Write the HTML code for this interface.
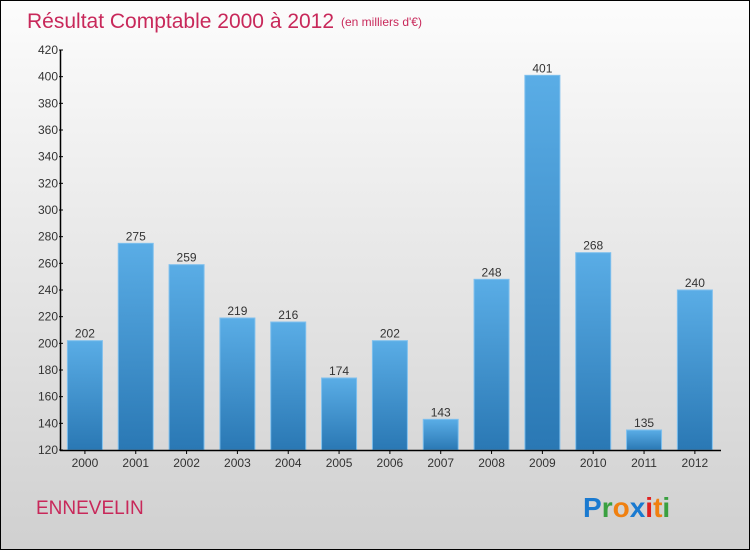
<!DOCTYPE html>
<html><head><meta charset="utf-8"><style>
body{margin:0}
#c{position:relative;width:748px;height:548px;border:1px solid #000;background:linear-gradient(#fcfcfc,#d0d0d0);font-family:"Liberation Sans",sans-serif;overflow:hidden}
</style></head><body>
<div id="c">
<svg width="748" height="548" xmlns="http://www.w3.org/2000/svg">
<defs><linearGradient id="g" x1="0" y1="0" x2="0" y2="1"><stop offset="0" stop-color="#5aade6"/><stop offset="1" stop-color="#2a78b4"/></linearGradient></defs>
<text x="26" y="27" font-size="21" fill="#c8285a">Résultat Comptable 2000 à 2012</text>
<text x="340" y="25" font-size="12" fill="#c8285a">(en milliers d'€)</text>
<text x="35" y="513" font-size="19" fill="#c8285a">ENNEVELIN</text>
<g font-size="28" font-weight="bold" font-family="'Liberation Sans',sans-serif">
<text x="582" y="516"><tspan fill="#1a7ad0">P</tspan><tspan fill="#3aa040">r</tspan><tspan fill="#f08010">o</tspan><tspan fill="#1a7ad0">x</tspan><tspan fill="#e02020">i</tspan><tspan fill="#f08010">t</tspan><tspan fill="#3aa040">i</tspan></text></g>
<g id="plot"></g>
</svg></div>
<script>
const categories=["2000","2001","2002","2003","2004","2005","2006","2007","2008","2009","2010","2011","2012"];
const values=[202,275,259,219,216,174,202,143,248,401,268,135,240];
const yTicks=[120,140,160,180,200,220,240,260,280,300,320,340,360,380,400,420];
const ns="http://www.w3.org/2000/svg";
const x0=59,step=50.83,bw=35,yMin=120,yMax=420,yTop=49,yBot=449;
const y=v=>yBot-(v-yMin)/(yMax-yMin)*(yBot-yTop);
const xc=i=>x0+step*(i+0.5)-0.5;
const p=document.getElementById('plot');
function mk(t,a,txt){const e=document.createElementNS(ns,t);for(const k in a)e.setAttribute(k,a[k]);if(txt!=null)e.textContent=txt;p.appendChild(e);return e;}
values.forEach((v,i)=>{
 const r=mk('rect',{x:xc(i)-bw/2,y:y(v),width:bw,height:yBot-y(v),fill:'url(#g)',stroke:'#7fc0ee','stroke-width':1});
 
 
 const t=mk('text',{x:xc(i),y:y(v)-3,'font-size':12,'text-anchor':'middle',fill:'#333'},v);
 
 
 const c=mk('text',{x:xc(i),y:466,'font-size':12,'text-anchor':'middle',fill:'#333'},categories[i]);
 
 
 const tk=mk('line',{x1:xc(i),x2:xc(i),y1:yBot,y2:yBot+4,stroke:'#000'});
 
 
});
yTicks.forEach(v=>{
 const t=mk('text',{x:x0-2,y:y(v)+4,'font-size':12,'text-anchor':'end',fill:'#333'},v);
 
 
 const l=mk('line',{x1:x0-1,x2:x0+3,y1:y(v),y2:y(v),stroke:'#000'});
 
 
});
const ya=mk('line',{x1:x0+0.5,x2:x0+0.5,y1:yTop,y2:yBot,stroke:'#000','stroke-width':1.5});


const xa=mk('line',{x1:x0,x2:720,y1:yBot+0.5,y2:yBot+0.5,stroke:'#000','stroke-width':1.5});


</script>
</body></html>
